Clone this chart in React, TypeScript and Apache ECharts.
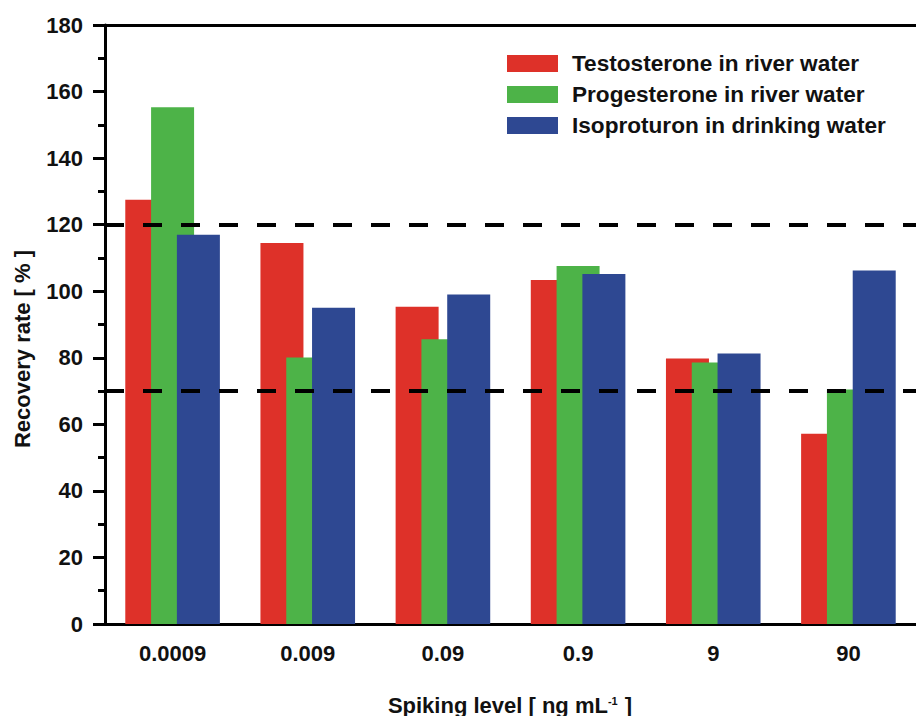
import React, { useEffect, useRef } from "react";
import * as echarts from "echarts";

const categories = ["0.0009", "0.009", "0.09", "0.9", "9", "90"];
const seriesNames = [
  "Testosterone in river water",
  "Progesterone in river water",
  "Isoproturon in drinking water",
];
const testosterone = [127.5, 114.5, 95.3, 103.4, 79.8, 57.2];
const progesterone = [155.3, 80.1, 85.6, 107.6, 78.6, 70.5];
const isoproturon = [117.0, 95.0, 99.0, 105.2, 81.3, 106.2];
const limitLines = [70, 120];
const colors = ["#DE3129", "#4DB348", "#2E4892"];

const FONT = "Liberation Sans, Arial, Helvetica, sans-serif";

export default function App() {
  const ref = useRef<HTMLDivElement>(null);
  useEffect(() => {
    if (!ref.current) return;
    const chart = echarts.init(ref.current, undefined, { renderer: "svg" });
    const values = [testosterone, progesterone, isoproturon];
    const series: any[] = values.map((data, i) => ({
      name: seriesNames[i],
      type: "bar",
      data,
      barWidth: 43,
      barGap: "-40%",
      itemStyle: { color: colors[i] },
      markLine:
        i === 0
          ? {
              silent: true,
              symbol: "none",
              label: { show: false },
              lineStyle: { color: "#000", type: [19, 19], width: 4 },
              data: limitLines.map((v) => ({ yAxis: v })),
            }
          : undefined,
    }));
    chart.setOption({
      animation: false,
      backgroundColor: "#fff",
      grid: { left: 105, right: -5, top: 25, bottom: 92, containLabel: false },
      legend: {
        orient: "vertical",
        left: 502,
        top: 47,
        icon: "rect",
        itemWidth: 51,
        itemHeight: 17,
        itemGap: 8,
        data: seriesNames,
        textStyle: {
          fontFamily: FONT,
          fontWeight: "bold",
          fontSize: 22.6,
          lineHeight: 22,
          color: "#111",
          padding: [0, 0, 0, 9],
        },
      },
      xAxis: [
        {
          type: "category",
          data: categories,
          axisLine: { lineStyle: { color: "#000", width: 3 } },
          axisTick: {
            alignWithLabel: true,
            length: 13,
            lineStyle: { color: "#000", width: 3 },
          },
          axisLabel: {
            margin: 18,
            fontFamily: FONT,
            fontWeight: "bold",
            fontSize: 22,
            color: "#111",
          },
        },
        {
          type: "category",
          data: categories,
          position: "top",
          axisLine: { lineStyle: { color: "#000", width: 3 } },
          axisTick: { show: false },
          axisLabel: { show: false },
        },
      ],
      yAxis: {
        type: "value",
        min: 0,
        max: 180,
        interval: 20,
        axisLine: { show: true, lineStyle: { color: "#000", width: 3 } },
        axisTick: { show: true, length: 12, lineStyle: { color: "#000", width: 3 } },
        minorTick: { show: true, splitNumber: 2, length: 7, lineStyle: { color: "#000", width: 3 } },
        splitLine: { show: false },
        axisLabel: {
          margin: 22,
          fontFamily: FONT,
          fontWeight: "bold",
          fontSize: 22,
          color: "#111",
        },
      },
      graphic: [
        {
          type: "text",
          x: 22,
          y: 349,
          rotation: Math.PI / 2,
          style: {
            text: "Recovery rate [ % ]",
            fontFamily: FONT,
            fontWeight: "bold",
            fontSize: 22,
            fill: "#111",
            align: "center",
            verticalAlign: "middle",
          },
        },
        {
          type: "text",
          x: 510,
          y: 705,
          style: {
            text: "{a|Spiking level [ ng mL}{b|-1}{a| ]}",
            align: "center",
            verticalAlign: "middle",
            rich: {
              a: { fontFamily: FONT, fontWeight: "bold", fontSize: 22, lineHeight: 24, fill: "#111" },
              b: { fontFamily: FONT, fontWeight: "bold", fontSize: 11, lineHeight: 22, verticalAlign: "top", fill: "#111", padding: [2, 1, 0, 0] },
            },
          },
        },
      ],
      series,
    });
    return () => chart.dispose();
  }, []);
  return (
    <div
      ref={ref}
      style={{ position: "absolute", left: 0, top: 0, width: 916, height: 716 }}
    />
  );
}
